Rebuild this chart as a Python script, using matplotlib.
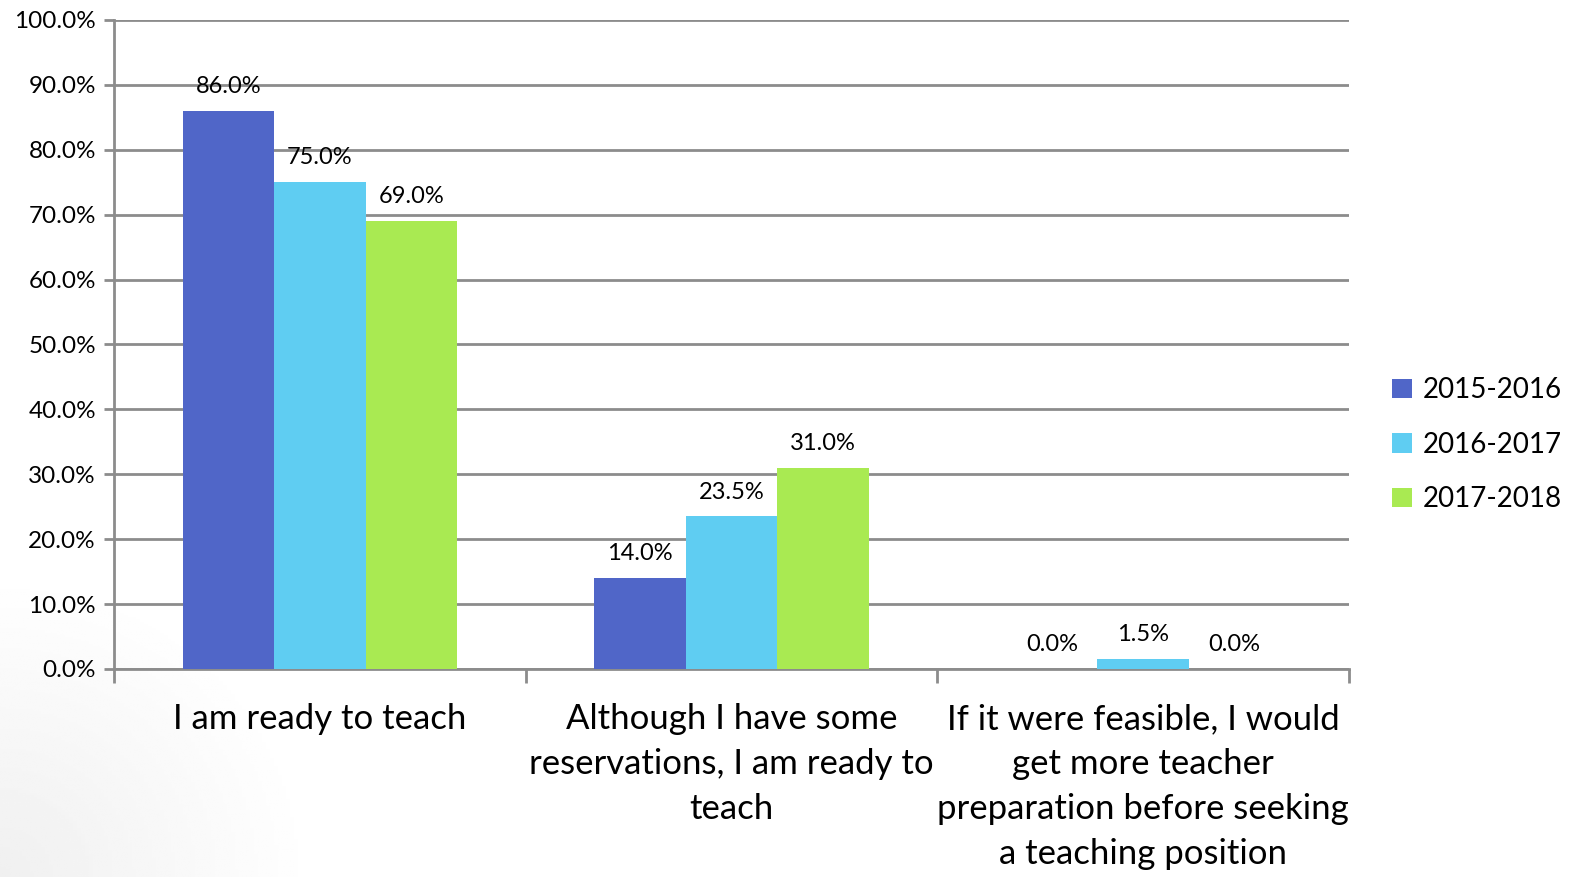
import numpy as np
import matplotlib.pyplot as plt

plt.rcParams["font.family"] = ["Lato", "DejaVu Sans"]

categories = [
    "I am ready to teach",
    "Although I have some\nreservations, I am ready to\nteach",
    "If it were feasible, I would\nget more teacher\npreparation before seeking\na teaching position",
]
series_names = ["2015-2016", "2016-2017", "2017-2018"]
values_2015 = [86.0, 14.0, 0.0]
values_2016 = [75.0, 23.5, 1.5]
values_2017 = [69.0, 31.0, 0.0]
colors = ["#5066C8", "#5FCDF2", "#A9EA52"]
y_ticks = [0, 10, 20, 30, 40, 50, 60, 70, 80, 90, 100]

fig = plt.figure(figsize=(15.77, 8.77), dpi=100)

# ---------------------------------------------------
# soft grey shading in the lower-left corner
# ---------------------------------------------------
bg = fig.add_axes([0, 0, 1, 1], zorder=-10)
gx, gy = np.meshgrid(np.linspace(0, 1, 400), np.linspace(0, 1, 400))
dist = np.sqrt((gx / 0.2) ** 2 + (gy / 0.35) ** 2)
shade = 1 - 0.06 * np.clip(1 - dist, 0, 1)
bg.imshow(shade, cmap="gray", vmin=0, vmax=1, origin="lower",
          extent=[0, 1, 0, 1], aspect="auto")
bg.axis("off")

ax = fig.add_axes([0.0723, 0.2372, 0.7831, 0.74])
ax.patch.set_alpha(0)

x = np.arange(len(categories))
width = 0.222
all_values = [values_2015, values_2016, values_2017]

for i, (name, vals) in enumerate(zip(series_names, all_values)):
    bars = ax.bar(x + (i - 1) * width, vals, width, color=colors[i],
                  label=name, zorder=3)
    for b, v in zip(bars, vals):
        ax.annotate(f"{v:.1f}%", (b.get_x() + b.get_width() / 2, v),
                    xytext=(0, 10), textcoords="offset points",
                    ha="center", va="bottom", fontsize=17, zorder=4)

ax.set_xlim(-0.5, 2.5)
ax.set_ylim(0, 100)
ax.set_yticks(y_ticks)
ax.set_yticklabels([f"{t:.1f}%" for t in y_ticks], fontsize=17.5)
ax.yaxis.grid(True, color="#8C8C8C", linewidth=2, zorder=0)

ax.set_xticks([-0.5, 0.5, 1.5, 2.5])
ax.set_xticklabels([])
ax.tick_params(axis="x", length=10, width=2, color="#8C8C8C")
ax.tick_params(axis="y", length=7, width=2, color="#8C8C8C", pad=6)

for i, cat in enumerate(categories):
    ax.text(x[i], -5.3, cat, ha="center", va="top", fontsize=25,
            linespacing=1.5, transform=ax.transData)

for side in ["top", "right"]:
    ax.spines[side].set_visible(False)
for side in ["left", "bottom"]:
    ax.spines[side].set_color("#8C8C8C")
    ax.spines[side].set_linewidth(2)

leg = fig.legend(loc="center left", bbox_to_anchor=(0.867, 0.493),
                 frameon=False, fontsize=20, handlelength=0.7,
                 handleheight=0.7, handletextpad=0.4, labelspacing=1.03)

fig.savefig("out.png", dpi=100)
